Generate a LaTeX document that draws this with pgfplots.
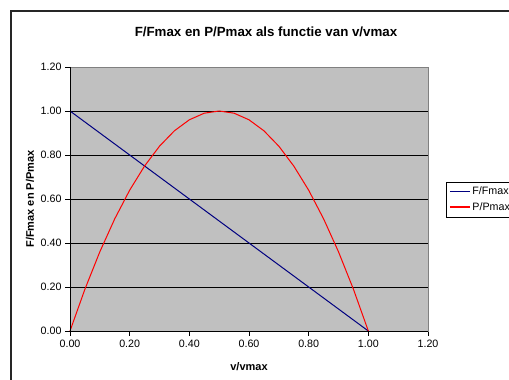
\documentclass[border=0pt]{standalone}
\usepackage{pgfplots}
\pgfplotsset{compat=1.18}
\usepackage{fontspec}
\setmainfont{Liberation Sans}
\definecolor{plotgray}{RGB}{192,192,192}
\definecolor{navyline}{RGB}{0,0,128}
\definecolor{redline}{RGB}{255,0,0}
\begin{document}
\begin{tikzpicture}
\useasboundingbox (0pt,0pt) rectangle (509pt,380pt);
\clip (0pt,0pt) rectangle (509pt,380pt);
\draw[line width=1.5pt, black!85] (11pt,-20pt) -- (11pt,369pt) -- (540pt,369pt);
\node[font=\fontsize{13.3}{15}\selectfont\bfseries] at (266pt,348pt) {F/Fmax en P/Pmax als functie van v/vmax};
\begin{axis}[
  at={(70pt,49pt)}, anchor=south west,
  scale only axis, width=358pt, height=264pt,
  xmin=0, xmax=1.2, ymin=0, ymax=1.2,
  xtick={0,0.2,...,1.2}, ytick={0,0.2,...,1.2},
  xtick pos=left, ytick pos=left,
  tick align=outside, major tick length=5pt,
  tick style={black, line width=0.6pt},
  ymajorgrids, grid style={black, line width=0.6pt},
  axis background/.style={fill=plotgray},
  axis line style={gray, line width=0.6pt},
  /pgf/number format/assume math mode=true,
  /pgf/number format/.cd, fixed, fixed zerofill, precision=2, /pgfplots/.cd,
  ticklabel style={font=\fontsize{10.7}{12}\selectfont},
  xlabel={v/vmax}, ylabel={F/Fmax en P/Pmax},
  label style={font=\fontsize{11}{13}\selectfont\bfseries},
  xlabel style={at={(rel axis cs:0.5,0)}, anchor=center, yshift=-36pt},
  ylabel style={at={(rel axis cs:0,0.5)}, anchor=center, yshift=40pt},
  legend style={at={(rel axis cs:1.05,0.5644)}, anchor=north west,
    font=\fontsize{10.7}{12}\selectfont, inner xsep=3pt, inner ysep=3pt, row sep=2pt},
  legend cell align=left,
  clip=false,
]
\addplot[navyline, line width=1pt, forget plot] coordinates {
(0,1) (0.05,0.95) (0.1,0.9) (0.15,0.85) (0.2,0.8) (0.25,0.75) (0.3,0.7) (0.35,0.65) (0.4,0.6) (0.45,0.55) (0.5,0.5) (0.55,0.45) (0.6,0.4) (0.65,0.35) (0.7,0.3) (0.75,0.25) (0.8,0.2) (0.85,0.15) (0.9,0.1) (0.95,0.05) (1,0)
};
\addplot[redline, line width=1pt, forget plot] coordinates {
(0,0) (0.05,0.19) (0.1,0.36) (0.15,0.51) (0.2,0.64) (0.25,0.75) (0.3,0.84) (0.35,0.91) (0.4,0.96) (0.45,0.99) (0.5,1) (0.55,0.99) (0.6,0.96) (0.65,0.91) (0.7,0.84) (0.75,0.75) (0.8,0.64) (0.85,0.51) (0.9,0.36) (0.95,0.19) (1,0)
};
\addlegendimage{legend image code/.code={\draw[color=navyline, line width=1.3pt] (0pt,0pt) -- (20pt,0pt);}}
\addlegendentry{F/Fmax}
\addlegendimage{legend image code/.code={\draw[color=redline, line width=1.3pt] (0pt,0pt) -- (20pt,0pt);}}
\addlegendentry{P/Pmax}
\draw[black, line width=0.6pt] (axis cs:0,1.2) -- (axis cs:0,0) -- (axis cs:1.2,0);
\end{axis}
\end{tikzpicture}
\end{document}
